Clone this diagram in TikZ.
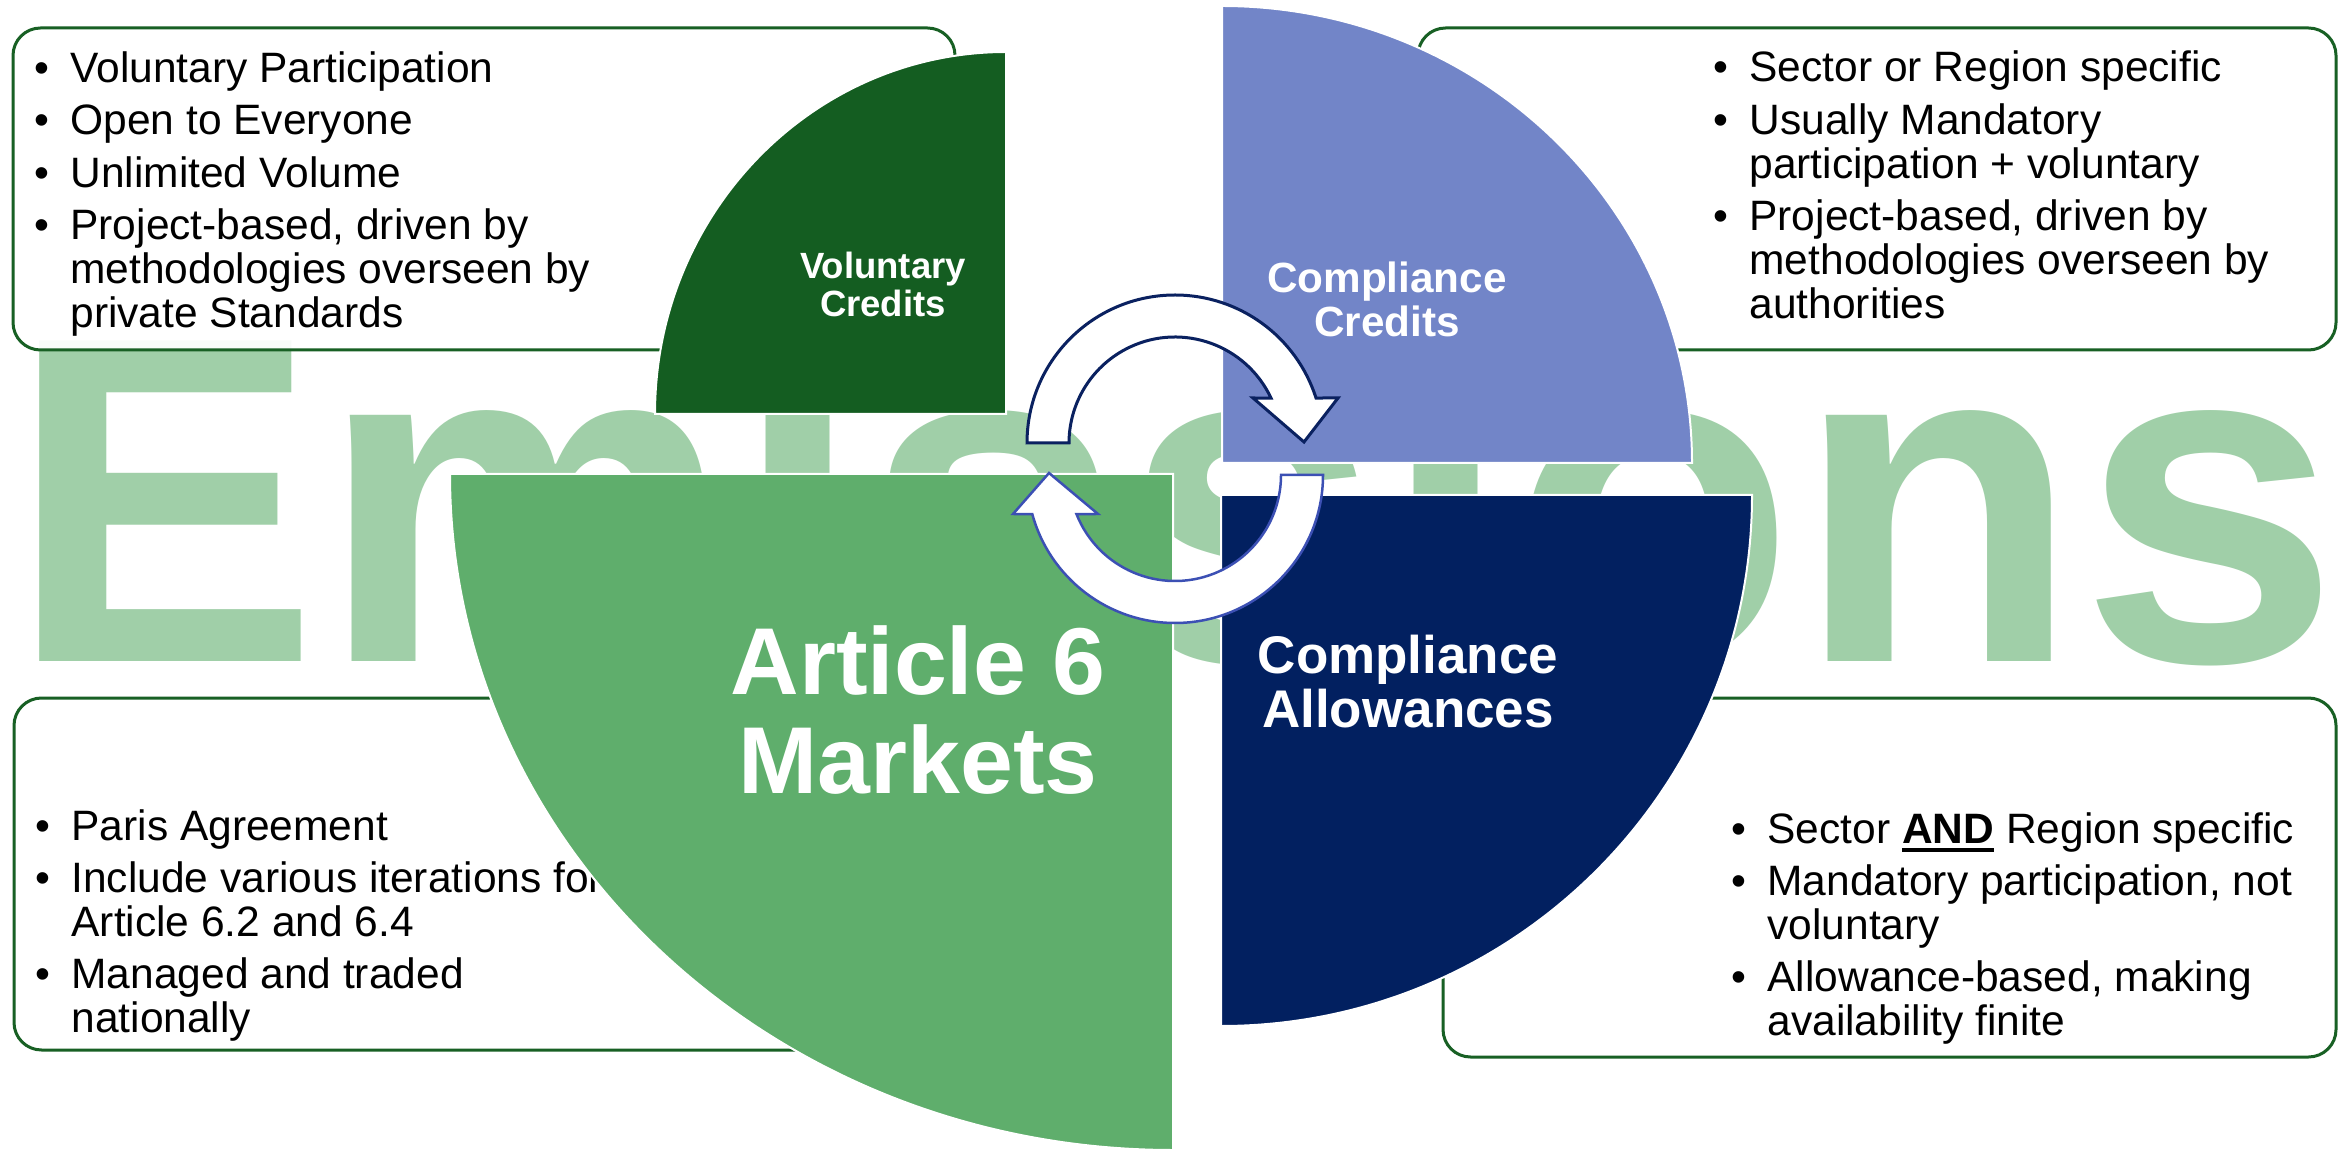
\documentclass[tikz,border=0pt]{standalone}
\usepackage{fontspec}
\setmainfont{Liberation Sans}
\usetikzlibrary{calc}
\definecolor{dkgreen}{RGB}{20,93,33}
\definecolor{qblue}{RGB}{114,133,200}
\definecolor{agreen}{RGB}{95,174,108}
\definecolor{qnavy}{RGB}{2,32,96}
\definecolor{wmark}{RGB}{160,207,168}
\definecolor{boxline}{RGB}{24,96,36}
\definecolor{arrnavy}{RGB}{10,33,96}
\definecolor{arrblue}{RGB}{60,80,180}
\newcommand\ulbold[1]{\setbox0\hbox{\bfseries #1}\rlap{\rule[-3.4pt]{\wd0}{1.5pt}}\box0\relax}
\newcommand\bu{\textbullet}
\tikzset{
  infobox/.style={draw=boxline, line width=1.2pt, fill=white, fill opacity=0.92, rounded corners=11pt},
  bullets/.style={anchor=base west, inner sep=0pt, align=left, font=\fontsize{17}{17.4}\selectfont},
  quad/.style={draw=white, line width=0.8pt},
  qlabel/.style={anchor=base, inner sep=0pt, text=white, font=\bfseries},
  uarrow/.style={draw=arrnavy, fill=white, line width=1.2pt, line join=miter},
  larrow/.style={draw=arrblue, fill=white, line width=1pt, line join=miter}
}
\begin{document}
\begin{tikzpicture}[x=0.4pt,y=-0.4pt]
\useasboundingbox (0,0) rectangle (2351,1150);
\fill[white] (0,0) rectangle (2351,1150);
\begin{scope}
\clip (0,0) rectangle (2351,1150);
% watermark
\node[anchor=base west, inner sep=0pt, text=wmark, font=\fontsize{186.4}{190}\selectfont\bfseries] (wm) at (8,662) {Emissions};
% boxes
\draw[infobox] (13,28) rectangle (955,350);
\draw[infobox] (1418,28) rectangle (2336,350);
\draw[infobox] (14,698) rectangle (955,1050);
\draw[infobox] (1443,698) rectangle (2336,1057);
% box texts
\node[bullets] (tl) at (34,83) {\begin{tabular}[t]{@{}p{14.4pt}@{}l@{}}
\bu & Voluntary Participation\\[3.4pt]
\bu & Open to Everyone\\[3.4pt]
\bu & Unlimited Volume\\[3.4pt]
\bu & Project-based, driven by\\
 & methodologies overseen by\\
 & private Standards
\end{tabular}};
\node[bullets] (tr) at (1713,82) {\begin{tabular}[t]{@{}p{14.4pt}@{}l@{}}
\bu & Sector or Region specific\\[3.4pt]
\bu & Usually Mandatory\\
 & participation + voluntary\\[3.4pt]
\bu & Project-based, driven by\\
 & methodologies overseen by\\
 & authorities
\end{tabular}};
\node[bullets] (bl) at (35,840) {\begin{tabular}[t]{@{}p{14.4pt}@{}l@{}}
\bu & Paris Agreement\\[3.4pt]
\bu & Include various iterations for\\
 & Article 6.2 and 6.4\\[3.4pt]
\bu & Managed and traded\\
 & nationally
\end{tabular}};
\node[bullets] (br) at (1731,843) {\begin{tabular}[t]{@{}p{14.4pt}@{}l@{}}
\bu & Sector \ulbold{AND} Region specific\\[3.4pt]
\bu & Mandatory participation, not\\
 & voluntary\\[3.4pt]
\bu & Allowance-based, making\\
 & availability finite
\end{tabular}};
% quadrants
\draw[quad, fill=dkgreen] (1006,414) -- (655,414) arc[start angle=180, end angle=270, x radius=351, y radius=362] -- cycle;
\draw[quad, fill=qblue] (1222,463) -- (1222,6) arc[start angle=270, end angle=360, x radius=470, y radius=457] -- cycle;
\draw[quad, fill=qnavy] (1221,495) -- (1752,495) arc[start angle=0, end angle=90, radius=531] -- cycle;
\draw[quad, fill=agreen] (1173,474) -- (1173,1150) arc[start angle=90, end angle=180, x radius=723, y radius=676] -- cycle;
\end{scope}
% quadrant labels
\node[qlabel, font=\fontsize{14.6}{15.2}\selectfont\bfseries] (vc) at (883,279) {\begin{tabular}[t]{@{}c@{}}Voluntary\\Credits\end{tabular}};
\node[qlabel, font=\fontsize{16.9}{17.6}\selectfont\bfseries] (cc) at (1387,293) {\begin{tabular}[t]{@{}c@{}}Compliance\\Credits\end{tabular}};
\node[qlabel, font=\fontsize{38}{39.6}\selectfont\bfseries] (am) at (918,694) {\begin{tabular}[t]{@{}c@{}}Article 6\\Markets\end{tabular}};
\node[qlabel, font=\fontsize{21.2}{21.6}\selectfont\bfseries] (ca) at (1408,673) {\begin{tabular}[t]{@{}c@{}}Compliance\\Allowances\end{tabular}};
% circular arrows
\coordinate (c1) at (1175,443);
\coordinate (c2) at (1175,475);
\draw[uarrow] ([shift={(180:106)}]c1) -- ([shift={(180:148)}]c1)
  arc[start angle=180, end angle=342.3, radius=148]
  -- (1338,398) -- (1304,442) -- (1253,398)
  -- ([shift={(334.9:106)}]c1)
  arc[start angle=334.9, end angle=180, radius=106] -- cycle;
\draw[larrow] ([shift={(0:106)}]c2) -- ([shift={(0:148)}]c2)
  arc[start angle=0, end angle=164.7, radius=148]
  -- (1013,514) -- (1049,473) -- (1098,514)
  -- ([shift={(158.4:106)}]c2)
  arc[start angle=158.4, end angle=0, radius=106] -- cycle;
\end{tikzpicture}
\end{document}
